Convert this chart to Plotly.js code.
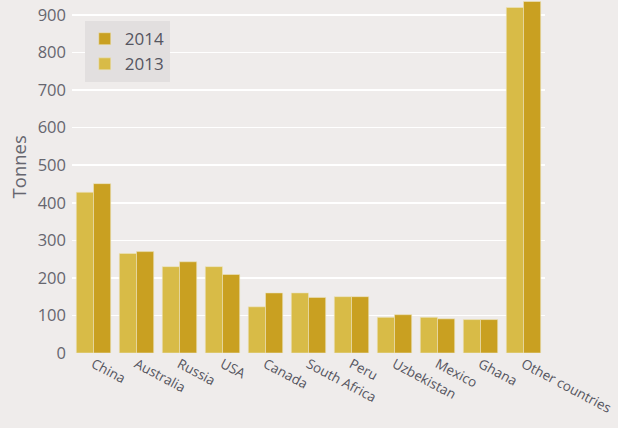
<!DOCTYPE html>
<html>
<head>
<meta charset="utf-8">
<script src="https://cdn.plot.ly/plotly-3.0.1.min.js"></script>
<style>html,body{margin:0;padding:0;background:#efeceb;}#chart{width:618px;height:428px;}</style>
</head>
<body>
<div id="chart"></div>
<script>
const countries = ["China","Australia","Russia","USA","Canada","South Africa","Peru","Uzbekistan","Mexico","Ghana","Other countries"];
const values2013 = [428, 265, 230, 230, 123, 160, 150, 95, 95, 89, 920];
const values2014 = [451, 270, 243, 209, 160, 148, 150, 102, 91, 89, 936];
const yTicks = [0,100,200,300,400,500,600,700,800,900];

const traces = [
  {type:'bar', name:'2013', x:countries, y:values2013, marker:{color:'#d8bb47', line:{width:0.6, color:'#ece4c0'}}},
  {type:'bar', name:'2014', x:countries, y:values2014, marker:{color:'#c9a021', line:{width:0.6, color:'#ece4c0'}}}
];
const layout = {
  width:618, height:428,
  paper_bgcolor:'#efeceb', plot_bgcolor:'#efeceb',
  margin:{l:72, r:73, t:0, b:75},
  barmode:'group', bargap:0.2, bargroupgap:0,
  font:{family:'Open Sans, sans-serif', color:'#5a5a66'},
  showlegend:true,
  legend:{x:0.027, y:0.94, xanchor:'left', yanchor:'top', traceorder:'reversed',
          bgcolor:'#e2dfdf', font:{size:17, color:'#55555f'}, borderwidth:0,
          itemwidth:30},
  xaxis:{tickangle:28, tickfont:{size:13.5, color:'#55555f'}, showgrid:false, zeroline:false, ticks:'', showline:false},
  yaxis:{range:[0,940], tickvals:yTicks, ticktext:yTicks.map(String), tickfont:{size:16.5, color:'#66666f'},
         gridcolor:'#ffffff', gridwidth:1.5, zeroline:false, showline:false, ticks:'', ticklen:0,
         ticklabelstandoff:5},
  annotations:[{text:'Tonnes', xref:'paper', yref:'paper', x:-0.114, y:0.526, textangle:-90,
                showarrow:false, xanchor:'center', yanchor:'middle', font:{size:18.5, color:'#66666f'}}]
};
Plotly.newPlot('chart', traces, layout, {displayModeBar:false, staticPlot:true});
</script>
</body>
</html>
